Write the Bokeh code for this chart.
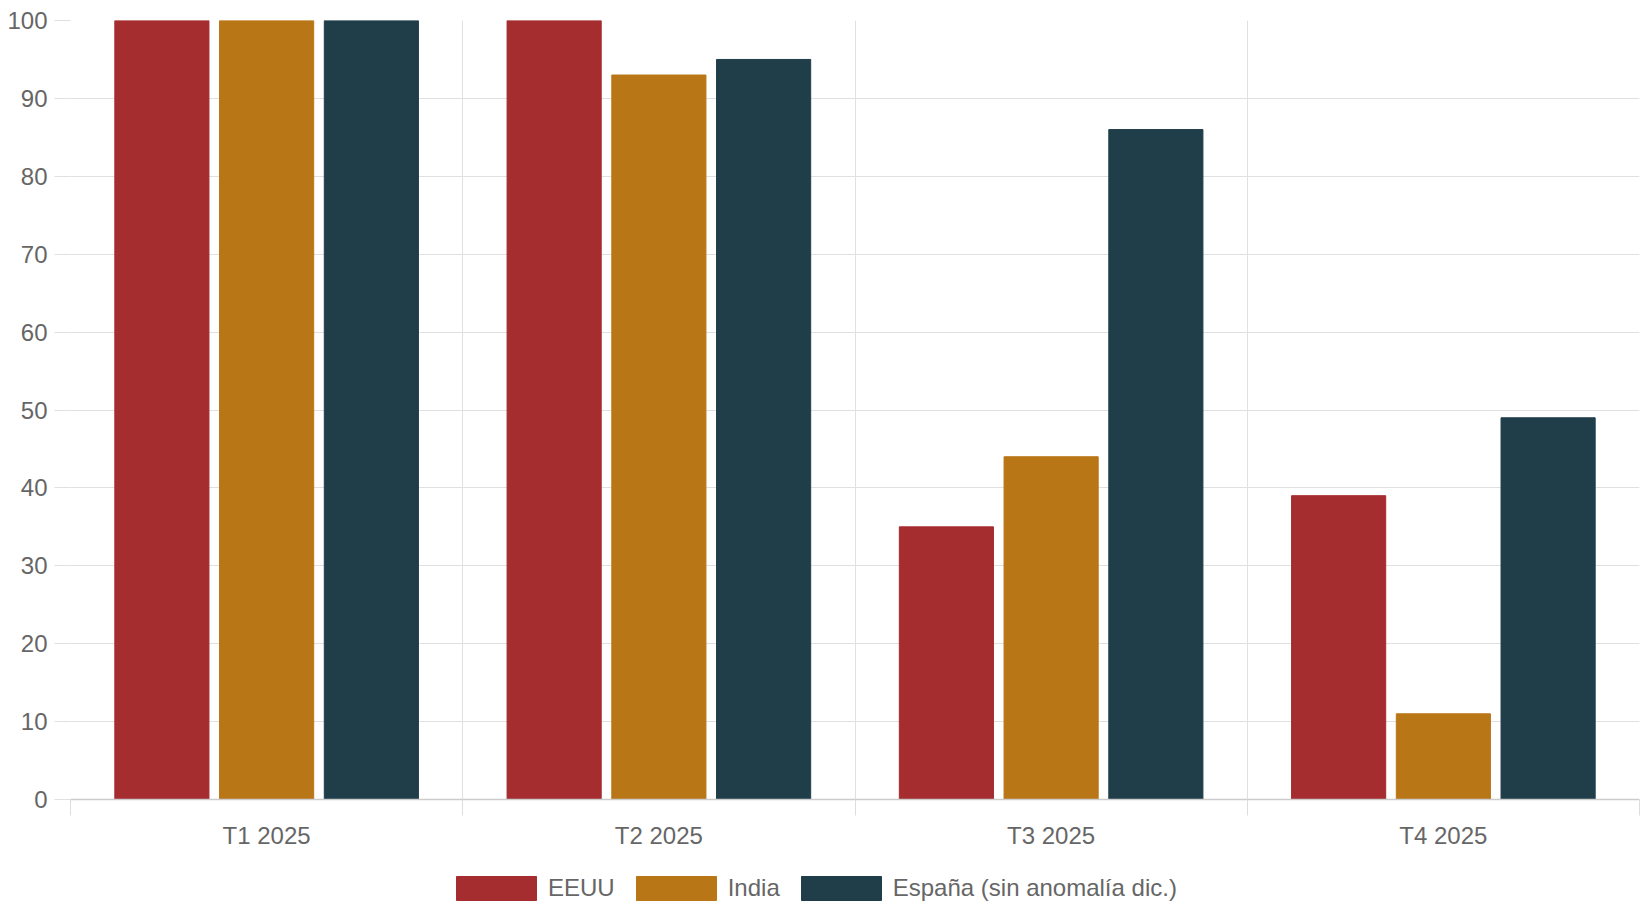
import numpy as np
from bokeh.plotting import figure
from bokeh.layouts import column
from bokeh.models import (ColumnDataSource, Range1d, FixedTicker, Legend, LegendItem)
from bokeh.embed import file_html
from bokeh.resources import INLINE

categories = ["T1 2025", "T2 2025", "T3 2025", "T4 2025"]
series_names = ["EEUU", "India", "España (sin anomalía dic.)"]
eeuu = [100, 100, 35, 39]
india = [100, 93, 44, 11]
espana = [100, 95, 86, 49]
colors = ["#a52c2f", "#b97617", "#203e4a"]
y_ticks = [0, 10, 20, 30, 40, 50, 60, 70, 80, 90, 100]

FONT = "Liberation Sans"
TXT = "#666666"
GRID = "#e0e0e0"

p = figure(width=1640, height=860, output_backend="svg", toolbar_location=None,
           x_range=Range1d(0, len(categories)), y_range=Range1d(0, 100),
           min_border_left=70, min_border_right=1, min_border_top=20,
           min_border_bottom=61)
p.outline_line_color = None
p.background_fill_color = "white"
p.border_fill_color = "white"

centers = np.arange(len(categories)) + 0.5
offsets = [-0.267, 0.0, 0.267]
sources = []
for vals, off, col in zip([eeuu, india, espana], offsets, colors):
    src = ColumnDataSource(dict(x=centers + off, top=vals))
    sources.append(src)
    p.vbar(x="x", top="top", bottom=0, width=0.24, source=src,
           fill_color=col, line_color=col, line_width=1)

xt = FixedTicker(ticks=list(centers), minor_ticks=list(range(len(categories) + 1)))
p.xaxis.ticker = xt
p.xaxis.major_label_overrides = {float(c): lab for c, lab in zip(centers, categories)}
p.xaxis.major_tick_line_color = None
p.xaxis.major_tick_out = 0
p.xaxis.major_tick_in = 0
p.xaxis.minor_tick_out = 16
p.xaxis.minor_tick_in = 0
p.xaxis.minor_tick_line_color = "#dddddd"
p.xaxis.axis_line_color = "#cccccc"
p.xaxis.axis_line_width = 1.5
p.xaxis.major_label_standoff = 6
p.xaxis.major_label_text_font = FONT
p.xaxis.major_label_text_font_size = "24px"
p.xaxis.major_label_text_color = TXT

p.xgrid.ticker = FixedTicker(ticks=list(range(len(categories) + 1)))
p.xgrid.grid_line_color = GRID

p.yaxis.ticker = FixedTicker(ticks=y_ticks)
p.yaxis.axis_line_color = None
p.yaxis.major_tick_out = 16
p.yaxis.major_tick_in = 0
p.yaxis.major_tick_line_color = GRID
p.yaxis.minor_tick_line_color = None
p.yaxis.major_label_standoff = 7
p.yaxis.major_label_text_font = FONT
p.yaxis.major_label_text_font_size = "24px"
p.yaxis.major_label_text_color = TXT
p.ygrid.ticker = FixedTicker(ticks=y_ticks)
p.ygrid.grid_line_color = GRID

# legend strip (bars drawn out of its visible range; only legend swatches show)
lg = figure(width=1640, height=60, output_backend="svg", toolbar_location=None,
            x_range=Range1d(100, 101), y_range=Range1d(100, 101),
            min_border_left=0, min_border_right=0, min_border_top=0, min_border_bottom=0)
lg.outline_line_color = None
lg.axis.visible = False
lg.grid.visible = False
lg_items = []
for n, col, src in zip(series_names, colors, sources):
    r = lg.vbar(x="x", top="top", bottom=0, width=0.24, source=src,
                fill_color=col, line_color=col)
    lg_items.append(LegendItem(label=n, renderers=[r], index=0))

legend = Legend(items=lg_items, orientation="horizontal", location=(376, 17),
                glyph_width=100, glyph_height=30, label_standoff=2, spacing=11,
                padding=0, margin=0, border_line_color=None, background_fill_alpha=0,
                label_text_font=FONT, label_text_font_size="24px", label_text_color=TXT,
                label_height=30)
lg.add_layout(legend, "center")

layout = column(p, lg, spacing=0)
open("out.html", "w").write(file_html(layout, INLINE))
